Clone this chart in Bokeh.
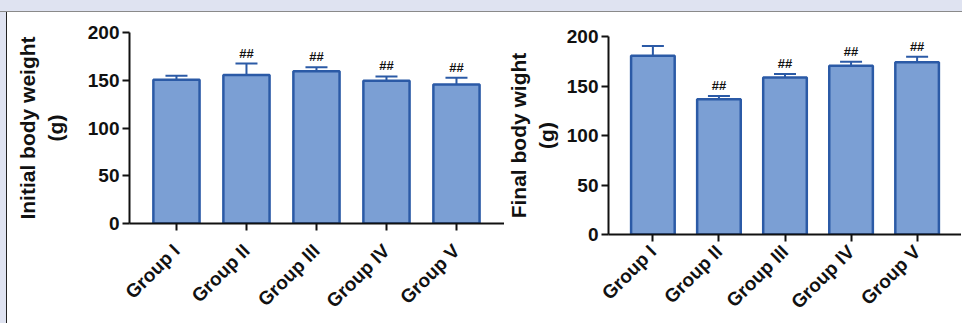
import math
from bokeh.plotting import figure
from bokeh.models import (ColumnDataSource, Range1d, FixedTicker, Whisker, TeeHead, Div)
from bokeh.layouts import row, column
from bokeh.core.properties import value
from bokeh.embed import file_html
from bokeh.resources import INLINE

groups = ["Group I", "Group II", "Group III", "Group IV", "Group V"]
initial = [150.5, 155.5, 159.5, 149.5, 145.5]
initial_err = [4.2, 12.0, 4.0, 4.5, 7.0]
initial_sig = ["", "##", "##", "##", "##"]
final = [180.5, 136.5, 158.5, 170.5, 174.0]
final_err = [10.0, 3.5, 3.5, 4.0, 5.5]
final_sig = ["", "##", "##", "##", "##"]
y_ticks = [0, 50, 100, 150, 200]

FONT = "Liberation Sans"
FILL = "#7b9fd4"
EDGE = "#2b5aa6"
BG = "#dfe3f1"
H = 311


def panel(vals, errs, sig, ylabel, width, xr, left, top, bottom,
          label_standoff, xlabel_standoff):
    xs = list(range(len(groups)))
    src = ColumnDataSource(dict(
        x=xs, top=vals, upper=[v + e for v, e in zip(vals, errs)], sig=sig))
    p = figure(width=width, height=H, output_backend="svg", toolbar_location=None,
               x_range=Range1d(*xr), y_range=Range1d(0, 200),
               min_border_left=left, min_border_right=0,
               min_border_top=top, min_border_bottom=bottom)
    p.frame_align = False
    p.outline_line_color = None
    p.background_fill_color = "white"
    p.border_fill_color = "white"
    p.xgrid.visible = False
    p.ygrid.visible = False

    p.vbar(x="x", top="top", bottom=0, width=0.66, source=src,
           fill_color=FILL, line_color=EDGE, line_width=2.5)
    wh = Whisker(base="x", lower="top", upper="upper", source=src,
                 line_color=EDGE, line_width=2,
                 upper_head=TeeHead(size=22, line_color=EDGE, line_width=2),
                 lower_head=None)
    p.add_layout(wh)
    p.text(x="x", y="upper", text="sig", source=src, text_align="center",
           text_baseline="bottom", y_offset=-3, text_font=value(FONT),
           text_font_size="13px", text_font_style="bold", text_color="#111111")

    for ax in (p.xaxis[0], p.yaxis[0]):
        ax.axis_line_width = 2
        ax.axis_line_color = "#111111"
        ax.major_tick_line_width = 2
        ax.major_tick_line_color = "#111111"
        ax.major_tick_out = 7
        ax.major_tick_in = 0
        ax.minor_tick_line_color = None
        ax.major_label_text_font = FONT
        ax.major_label_text_font_style = "bold"
        ax.major_label_text_font_size = "19px"
        ax.major_label_text_color = "#111111"
        ax.major_label_standoff = 3

    p.xaxis.ticker = FixedTicker(ticks=xs)
    p.xaxis.major_label_overrides = {i: g for i, g in enumerate(groups)}
    p.xaxis.major_label_orientation = math.pi / 4
    p.xaxis.major_label_standoff = xlabel_standoff

    p.yaxis.ticker = FixedTicker(ticks=y_ticks)
    p.yaxis.axis_label = ylabel
    p.yaxis.axis_label_text_font = FONT
    p.yaxis.axis_label_text_font_style = "bold"
    p.yaxis.axis_label_text_font_size = "21px"
    p.yaxis.axis_label_text_color = "#111111"
    p.yaxis.axis_label_standoff = label_standoff
    return p


p1 = panel(initial, initial_err, initial_sig, "Initial body weight\n(g)",
           497, (-0.671, 4.686), 122, 20, 100, 18, 17)
p2 = panel(final, final_err, final_sig, "Final body wight\n(g)",
           457, (-0.672, 4.672), 99, 24, 88, 6, 7)

top_strip = Div(text="", width=962, height=12, margin=0,
                styles={"background-color": BG, "border-bottom": "1px solid #8a8a8a"})
left_strip = Div(text="", width=7, height=H, margin=0,
                 styles={"background-color": BG, "border-right": "1px solid #222222"})
layout = column(top_strip, row(left_strip, p1, p2, spacing=0), spacing=0)

open("out.html", "w").write(file_html(layout, INLINE))
